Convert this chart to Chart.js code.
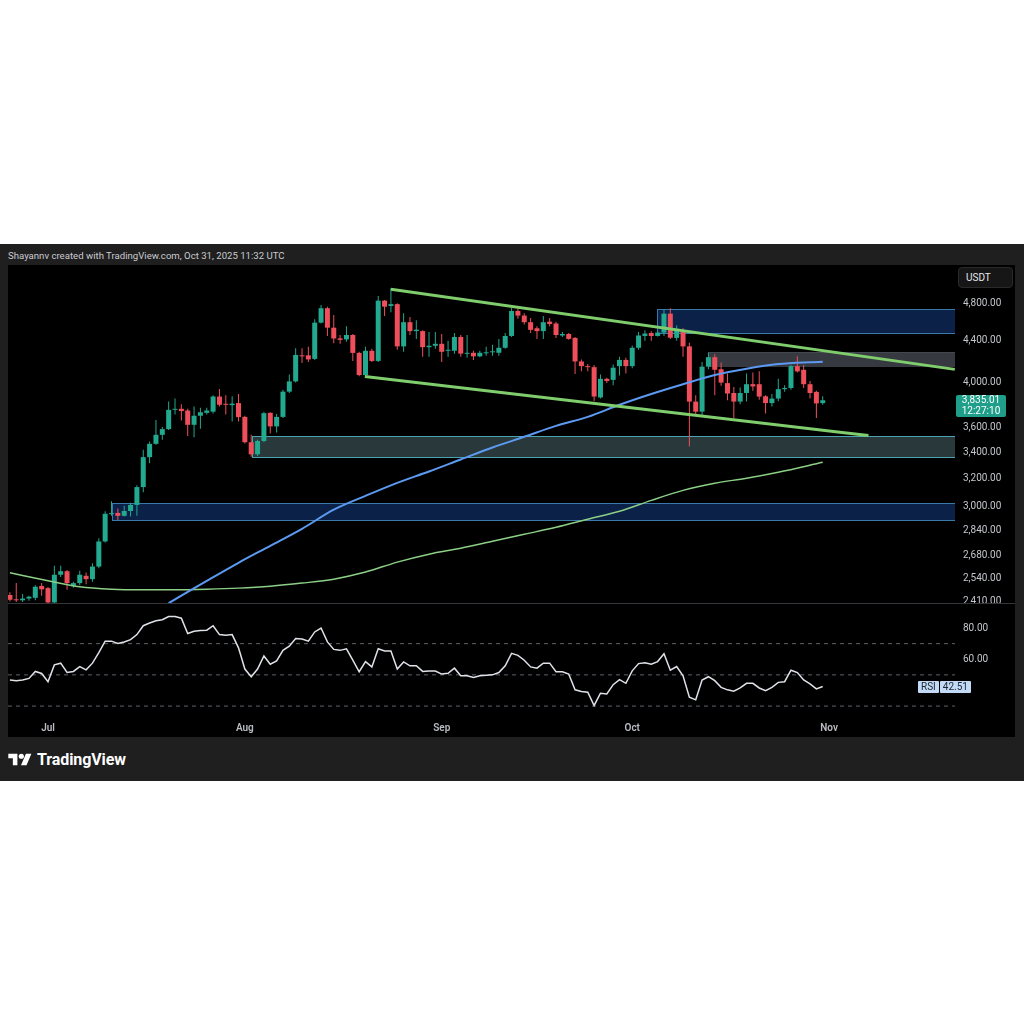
<!DOCTYPE html>
<html>
<head>
<meta charset="utf-8">
<script src="https://cdn.jsdelivr.net/npm/chart.js@4.4.1/dist/chart.umd.min.js"></script>
<style>
  body { margin: 0; width: 1024px; height: 1024px; background: #fff; position: relative; overflow: hidden;
         font-family: Roboto, "Noto Sans", "Liberation Sans", sans-serif; }
  #frame { position: absolute; left: 0; top: 244px; width: 1024px; height: 537px; background: #1f1f1f; }
  #header { position: absolute; left: 8px; top: 249px; font-size: 9.6px; line-height: 14px; color: #c9cbd0; }
  #panel { position: absolute; left: 8px; top: 265px; width: 1007px; height: 472px; background: #000; }
  #pricebox { position: absolute; left: 8px; top: 265px; width: 1007px; height: 338px; }
  #rsibox { position: absolute; left: 8px; top: 604px; width: 1007px; height: 133px; }
  #sep { position: absolute; left: 8px; top: 603px; width: 1007px; height: 1px; background: #34363b; }
  #usdt { position: absolute; left: 958px; top: 267px; width: 55px; height: 21px; box-sizing: border-box;
          background: #161616; border: 1px solid #2a2a2a; border-radius: 4px; color: #e6e7ea;
          font-size: 10px; line-height: 19px; padding-left: 7px; }
  #lastPrice { position: absolute; left: 948px; width: 50px; height: 22px; background: #1f9e89; color: #fff;
               font-size: 10px; line-height: 10.5px; text-align: center; border-radius: 2px; padding-top: 0.5px; box-sizing: border-box; }
  #rsiTag { position: absolute; left: 910px; height: 12px; display: flex; gap: 1px; }
  #rsiTag span { background: #c2daf5; color: #1b2533; font-size: 10px; line-height: 12px; padding: 0 3px; border-radius: 1px; }
  #logo { position: absolute; left: 8px; top: 750px; height: 18px; display: flex; align-items: center; gap: 5px;
          color: #fff; font-size: 16px; font-weight: 700; letter-spacing: -0.1px; }
</style>
</head>
<body>
<div id="frame"></div>
<div id="header">Shayannv created with TradingView.com, Oct 31, 2025 11:32 UTC</div>
<div id="panel"></div>
<div id="pricebox"><canvas id="price"></canvas><div id="lastPrice"></div></div>
<div id="sep"></div>
<div id="rsibox"><canvas id="rsi"></canvas><div id="rsiTag"><span>RSI</span><span id="rsiVal"></span></div></div>
<div id="usdt">USDT</div>
<div id="logo">
  <svg width="24" height="13" viewBox="0 0 36 20"><path d="M14 19H7V8H0V1h14v18zM28 19h-8.5l7.6-18h8.4L28 19z" fill="#fff"/><circle cx="20" cy="5" r="4" fill="#fff"/></svg>
  <span>TradingView</span>
</div>

<script>
// day index counted from Jul 1 2025; first candle is Jun 25
const firstDay = -6;
const monthTicks = [0, 31, 62, 92, 123];
const monthLabels = ['Jul', 'Aug', 'Sep', 'Oct', 'Nov'];
const priceTicks = [4800, 4400, 4000, 3600, 3400, 3200, 3000, 2840, 2680, 2540, 2410];
const rsiTicks = [80, 60];
const rsiBands = [70, 50, 30];

const opens = [2444,2418,2414,2424,2428,2495,2483,2402,2561,2582,2496,2512,2555,2535,2610,2766,2947,2955,2935,2968,
  3010,3137,3362,3467,3540,3587,3751,3760,3745,3623,3700,3725,3735,3868,3800,3792,3810,3690,3480,3384,
  3490,3725,3610,3690,3912,4006,4255,4255,4220,4589,4745,4536,4425,4415,4460,4279,4065,4300,4200,4829,
  4770,4790,4344,4594,4500,4500,4336,4350,4370,4300,4300,4440,4270,4280,4245,4275,4285,4280,4330,4450,
  4715,4665,4594,4530,4500,4600,4580,4455,4470,4430,4195,4150,4140,3860,4030,4020,4150,4210,4150,4330,
  4450,4480,4450,4485,4686,4430,4510,4344,3823,3735,4145,4237,4120,3990,3900,3823,3900,3980,3980,3870,
  3810,3850,3935,3945,4150,4115,3980,3910,3810];
const highs = [2459,2512,2450,2440,2500,2512,2490,2615,2615,2590,2520,2585,2575,2630,2786,2966,3035,2985,3005,3025,
  3150,3420,3485,3663,3605,3823,3850,3800,3760,3780,3770,3770,3880,3935,3880,3870,3890,3700,3540,3500,
  3735,3730,3715,3930,4070,4326,4326,4340,4625,4781,4760,4670,4460,4550,4470,4290,4340,4320,4882,4835,
  4970,4800,4690,4650,4615,4510,4490,4490,4470,4400,4480,4460,4460,4300,4300,4340,4360,4420,4480,4750,
  4760,4690,4640,4550,4660,4640,4600,4490,4480,4440,4215,4170,4160,4070,4040,4165,4240,4230,4350,4490,
  4510,4500,4505,4730,4745,4560,4530,4380,3880,4190,4280,4265,4185,4080,3955,3950,4080,4090,4100,3880,
  3890,4030,3970,4160,4245,4160,4010,3920,3870];
const lows = [2407,2405,2405,2412,2415,2440,2380,2390,2548,2474,2485,2500,2505,2520,2600,2760,2935,2905,2930,2930,
  2935,3100,3315,3460,3500,3580,3710,3660,3530,3520,3590,3710,3720,3780,3710,3650,3650,3470,3365,3370,
  3480,3550,3560,3680,3900,3995,4180,4190,4210,4580,4450,4375,4370,4390,4200,4055,4050,4190,4190,4660,
  4700,4310,4290,4460,4420,4240,4240,4320,4190,4240,4270,4240,4230,4210,4235,4250,4250,4250,4320,4440,
  4630,4570,4480,4420,4420,4550,4430,4440,4410,4076,4100,4100,3825,3850,3990,3970,4060,4080,4130,4310,
  4400,4400,4445,4450,4420,4400,4240,3445,3700,3705,4120,3880,3965,3835,3680,3800,3823,3920,3840,3720,
  3780,3825,3910,3930,4090,3945,3850,3680,3795];
const closes = [2417,2414,2424,2434,2491,2476,2402,2561,2582,2512,2512,2561,2535,2610,2766,2949,2953,2935,2968,3010,
  3137,3362,3467,3540,3587,3751,3758,3740,3623,3700,3730,3745,3868,3795,3795,3805,3688,3480,3384,3490,
  3722,3610,3690,3912,4006,4259,4245,4215,4589,4745,4536,4424,4410,4460,4279,4065,4300,4200,4829,4762,
  4790,4344,4594,4500,4515,4336,4350,4370,4290,4310,4440,4272,4280,4245,4280,4282,4295,4330,4450,4715,
  4665,4594,4513,4500,4594,4575,4460,4470,4420,4195,4150,4140,3868,4030,4010,4135,4210,4150,4330,4455,
  4475,4450,4485,4686,4432,4510,4344,3823,3735,4145,4237,4115,3995,3895,3823,3900,3980,3960,3868,3810,
  3850,3935,3945,4150,4100,3980,3900,3807,3835.01];

const rsiValues = [46.7,46.3,46.7,47.7,52.2,50.9,45.6,56.4,57.5,51.5,52.2,55.3,53.2,57.5,64.2,71.6,71.6,70.1,71.1,72.6,
  75.8,81.5,83.2,84.7,85.3,87.4,87.4,86.3,76.5,77.9,78.4,78.6,81.5,75.8,75.4,75.8,67.3,53.7,48.8,53.7,
  62.1,56.8,58.9,65.7,68.4,73.3,73.0,71.6,77.5,80.0,71.1,66.3,65.7,66.7,59.4,52.0,58.5,55.1,66.7,65.3,
  65.3,53.7,58.3,55.8,55.8,52.2,52.5,52.5,50.5,51.0,54.3,49.4,49.4,48.4,49.4,49.8,50.0,51.5,55.8,63.8,
  62.5,59.4,55.1,54.3,57.5,57.5,52.0,52.0,50.5,40.4,39.3,38.9,30.4,38.2,37.8,43.7,46.9,44.6,52.6,57.2,
  57.8,56.8,58.5,63.5,53.0,55.3,49.4,35.7,34.0,46.7,48.8,46.3,42.0,40.4,39.5,41.6,44.6,44.6,41.6,39.9,
  42.0,45.2,45.6,53.0,51.5,46.7,44.2,41.0,42.51];

// moving averages read at sample days
const maFastDays = [19,25,30,35,40,45,50,55,60,65,70,75,80,85,90,95,100,105,110,115,120,122];
const maFastValues = [2398,2525,2633,2738,2848,2977,3074,3168,3252,3344,3438,3524,3614,3690,3795,3891,3980,4065,4125,4170,4188,4192];
const maSlowDays = [-6,0,5,10,15,20,25,30,35,40,45,50,55,60,65,70,75,80,85,90,95,100,105,110,115,122];
const maSlowValues = [2573,2526,2491,2477,2474,2474,2477,2483,2494,2512,2535,2577,2637,2686,2723,2767,2812,2858,2912,2966,3042,3113,3165,3202,3247,3322];

// channel trendlines: [day, price] end points
const upperChannel = [[54.0, 4958], [142.8, 4119]];
const lowerChannel = [[49.9, 4051], [129.2, 3534]];

// zones run from their start day to the right edge
const zoneStart = [95.95, 104.0, 32.1, 10.1];
const zoneTop = [4737, 4284, 3534, 3023];
const zoneBottom = [4478, 4155, 3362, 2908];

const xMin = -6.3, xMax = 142.83;
const UP = '#22a98f', DOWN = '#ef4f5b';
const zoneStyles = [
  { fill: 'rgba(16,46,98,0.72)', edge: '#3a78a8' },
  { fill: 'rgba(72,76,84,0.75)', edge: 'rgba(72,76,84,0.75)' },
  { fill: 'rgba(48,66,68,0.85)', edge: '#4ba3b0' },
  { fill: 'rgba(16,46,98,0.72)', edge: '#3a78a8' }
];

Chart.defaults.font.family = 'Roboto, "Noto Sans", sans-serif';
Chart.defaults.animation = false;

const days = closes.map((_, i) => firstDay + i);
const candleColors = closes.map((c, i) => (c >= opens[i] ? UP : DOWN));
const fmt = v => v.toLocaleString('en-US', { minimumFractionDigits: 2, maximumFractionDigits: 2 });

// keep the plot area flush with the canvas edges
const noPad = a => { a.paddingTop = 0; a.paddingBottom = 0; a.paddingLeft = 0; a.paddingRight = 0; };

const zonePlugin = {
  id: 'zones',
  beforeDatasetsDraw(chart) {
    const { ctx, chartArea, scales: { x, y } } = chart;
    ctx.save();
    ctx.beginPath();
    ctx.rect(chartArea.left, chartArea.top, chartArea.width, chartArea.height);
    ctx.clip();
    zoneStart.forEach((s, i) => {
      const x0 = Math.round(x.getPixelForValue(s));
      const x1 = Math.round(chartArea.right);
      const y0 = Math.round(y.getPixelForValue(zoneTop[i]));
      const y1 = Math.round(y.getPixelForValue(zoneBottom[i]));
      ctx.fillStyle = zoneStyles[i].fill;
      ctx.fillRect(x0, y0, x1 - x0, y1 - y0);
      ctx.strokeStyle = zoneStyles[i].edge;
      ctx.lineWidth = 1;
      ctx.strokeRect(x0 + 0.5, y0 + 0.5, x1 - x0, y1 - y0);
    });
    ctx.restore();
  }
};

const lastPricePlugin = {
  id: 'lastPrice',
  afterDraw(chart) {
    const el = document.getElementById('lastPrice');
    const last = closes[closes.length - 1];
    el.innerHTML = fmt(last) + '<br>12:27:10';
    el.style.top = (chart.scales.y.getPixelForValue(last) - 5.5) + 'px';
  }
};

const lineSet = (pts, color, width, order) => ({
  type: 'line',
  data: pts,
  borderColor: color,
  borderWidth: width,
  pointRadius: 0,
  cubicInterpolationMode: 'monotone',
  order
});

new Chart(document.getElementById('price'), {
  type: 'line',
  data: {
    datasets: [
      { type: 'bar', data: days.map((d, i) => ({ x: d, y: [lows[i], highs[i]] })),
        backgroundColor: candleColors, barThickness: 1, maxBarThickness: 1, grouped: false,
        inflateAmount: 0, borderWidth: 0, order: 5 },
      { type: 'bar', data: days.map((d, i) => ({ x: d, y: [opens[i], closes[i]] })),
        backgroundColor: candleColors, barThickness: 5, maxBarThickness: 5, minBarLength: 1, grouped: false,
        inflateAmount: 0, borderWidth: 0, order: 4 },
      lineSet(maSlowDays.map((d, i) => ({ x: d, y: maSlowValues[i] })), '#8ccf86', 1.5, 3),
      lineSet(maFastDays.map((d, i) => ({ x: d, y: maFastValues[i] })), '#5c9af2', 2, 2),
      lineSet(upperChannel.map(p => ({ x: p[0], y: p[1] })), '#7fcd6c', 3, 1),
      lineSet(lowerChannel.map(p => ({ x: p[0], y: p[1] })), '#7fcd6c', 3, 1)
    ]
  },
  options: {
    responsive: true,
    maintainAspectRatio: false,
    events: [],
    layout: { padding: 0, autoPadding: false },
    plugins: { legend: { display: false }, tooltip: { enabled: false } },
    scales: {
      x: { type: 'linear', display: false, min: xMin, max: xMax, offset: false, bounds: 'data' },
      y: {
        type: 'logarithmic', position: 'right', min: 2399, max: 5244, bounds: 'data', beginAtZero: false,
        afterBuildTicks: a => { a.ticks = priceTicks.map(v => ({ value: v })); },
        afterFit: a => { a.width = 60; noPad(a); },
        grid: { display: false, drawTicks: false },
        border: { display: false },
        ticks: { autoSkip: false, color: '#c3c6cc', padding: 8, font: { size: 10 }, callback: v => fmt(v) }
      }
    }
  },
  plugins: [zonePlugin, lastPricePlugin]
});

const rsiTagPlugin = {
  id: 'rsiTag',
  afterDraw(chart) {
    const last = rsiValues[rsiValues.length - 1];
    document.getElementById('rsiVal').textContent = last.toFixed(2);
    document.getElementById('rsiTag').style.top = (chart.scales.y.getPixelForValue(last) - 6) + 'px';
  }
};

new Chart(document.getElementById('rsi'), {
  type: 'line',
  data: {
    datasets: [
      { data: days.map((d, i) => ({ x: d, y: rsiValues[i] })), borderColor: '#dfe2e8', borderWidth: 1.5,
        pointRadius: 0, tension: 0, order: 0 },
      ...rsiBands.map(v => ({
        data: [{ x: xMin, y: v }, { x: xMax, y: v }], borderColor: '#5f626b', borderWidth: 1,
        borderDash: [4, 4], pointRadius: 0, order: 1
      }))
    ]
  },
  options: {
    responsive: true,
    maintainAspectRatio: false,
    events: [],
    layout: { padding: 0, autoPadding: false },
    plugins: { legend: { display: false }, tooltip: { enabled: false } },
    scales: {
      x: {
        type: 'linear', min: xMin, max: xMax, offset: false, bounds: 'data',
        afterBuildTicks: a => { a.ticks = monthTicks.map(v => ({ value: v })); },
        afterFit: a => { a.height = 20; noPad(a); },
        grid: { display: false, drawTicks: false },
        border: { display: false },
        ticks: { autoSkip: false, maxRotation: 0, color: '#b9bcc3', padding: 5,
                 font: { size: 10, weight: '600' }, callback: v => monthLabels[monthTicks.indexOf(v)] }
      },
      y: {
        type: 'linear', position: 'right', min: 23, max: 95.4, bounds: 'data',
        afterBuildTicks: a => { a.ticks = rsiTicks.map(v => ({ value: v })); },
        afterFit: a => { a.width = 60; noPad(a); },
        grid: { display: false, drawTicks: false },
        border: { display: false },
        ticks: { autoSkip: false, color: '#c3c6cc', padding: 8, font: { size: 10 }, callback: v => v.toFixed(2) }
      }
    }
  },
  plugins: [rsiTagPlugin]
});
</script>
</body>
</html>
